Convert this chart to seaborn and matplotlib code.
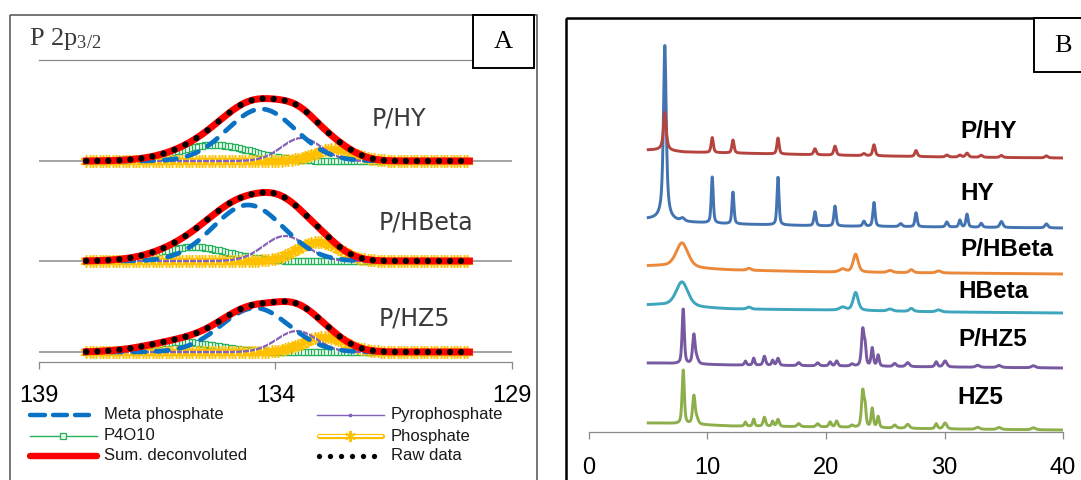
import numpy as np
import pandas as pd
import matplotlib
matplotlib.use("Agg")
import matplotlib.pyplot as plt
import seaborn as sns
from matplotlib.patches import Rectangle

# ======================= DATA =======================
# Panel A : XPS P 2p3/2 deconvolution (binding energy, eV), stacked spectra
xps_samples = ["P/HY", "P/HBeta", "P/HZ5"]
xps_offsets = [201, 101, 10]
be_start, be_end = 138.0, 129.9
be_ticks = [139, 134, 129]
meta_center = [134.30, 134.58, 134.43]
meta_height = [52, 56, 44]
meta_sigma = [0.72, 0.74, 0.72]
p4o10_center = [135.30, 135.75, 136.00]
p4o10_height = [16, 14, 10]
p4o10_sigma = [0.80, 0.75, 0.75]
pyro_center = [133.45, 133.80, 133.55]
pyro_height = [23, 25, 21]
pyro_sigma = [0.42, 0.45, 0.42]
phos_center = [132.75, 133.10, 132.97]
phos_height = [12, 19, 15]
phos_sigma = [0.42, 0.45, 0.45]

# Panel B : XRD patterns (2-theta, degrees), stacked
xrd_names = ["P/HY", "HY", "P/HBeta", "HBeta", "P/HZ5", "HZ5"]
xrd_ticks = [0, 10, 20, 30, 40]
bg_x = [5, 6, 8, 12, 20, 30, 40]
bg_PHY = [282, 282, 280, 279, 277, 275, 274]
bg_HY = [213, 213, 210, 208, 206, 205, 204]
bg_PHBeta = [166, 166, 164, 162, 160, 159, 158]
bg_HBeta = [127, 127, 125, 123, 122, 120, 119]
bg_PHZ5 = [69, 69, 68, 67, 66, 65, 64]
bg_HZ5 = [9, 9, 8, 6, 5, 3, 2]
# peaks: (2theta, height, fwhm)
peaks_PHY = [(6.4, 38, 0.28), (10.4, 15, 0.22), (12.15, 13, 0.22), (15.95, 16, 0.22),
             (19.07, 6, 0.25), (20.76, 9, 0.25), (23.2, 2, 0.3), (24.05, 11, 0.25),
             (27.6, 6, 0.25), (30.2, 2, 0.3), (31.3, 2, 0.3), (31.9, 4, 0.3),
             (33.1, 2, 0.3), (34.8, 2, 0.3), (38.6, 2, 0.3)]
peaks_HY = [(6.4, 174, 0.28), (7.9, 3, 0.4), (10.4, 46, 0.2), (12.15, 32, 0.2),
            (15.95, 48, 0.2), (19.07, 14, 0.22), (20.76, 20, 0.22), (23.2, 5, 0.25),
            (24.05, 24, 0.22), (26.3, 3, 0.3), (27.6, 14, 0.22), (30.2, 5, 0.25),
            (31.3, 7, 0.22), (31.9, 13, 0.22), (33.1, 4, 0.25), (34.8, 6, 0.3),
            (38.6, 4, 0.3)]
peaks_PHBeta = [(7.85, 25, 1.2), (13.5, 2, 0.4), (21.4, 3, 0.6), (22.5, 18, 0.5),
                (25.4, 2, 0.5), (27.2, 3, 0.4), (29.5, 2, 0.5)]
peaks_HBeta = [(7.85, 25, 1.2), (13.5, 2, 0.4), (21.4, 3, 0.6), (22.5, 18, 0.5),
               (25.4, 2, 0.5), (27.2, 3, 0.4), (29.5, 2, 0.5)]
peaks_PHZ5 = [(7.95, 55, 0.22), (8.85, 29, 0.25), (9.1, 5, 0.3), (13.2, 4, 0.2),
              (13.9, 7, 0.2), (14.8, 9, 0.25), (15.5, 5, 0.2), (15.95, 7, 0.25),
              (17.7, 3, 0.3), (19.3, 3, 0.3), (20.35, 4, 0.25), (20.9, 5, 0.25),
              (22.2, 2, 0.3), (23.1, 36, 0.25), (23.3, 18, 0.2), (23.9, 18, 0.22),
              (24.4, 11, 0.22), (25.8, 3, 0.3), (26.9, 4, 0.35), (29.3, 5, 0.25),
              (30.05, 6, 0.35), (32.8, 2, 0.4), (34.6, 2, 0.4), (37.5, 2, 0.4)]
peaks_HZ5 = [(7.95, 54, 0.22), (8.85, 28, 0.25), (9.1, 5, 0.3), (13.2, 4, 0.2),
             (13.9, 7, 0.2), (14.8, 9, 0.25), (15.5, 5, 0.2), (15.95, 7, 0.25),
             (17.7, 3, 0.3), (19.3, 3, 0.3), (20.35, 5, 0.25), (20.9, 6, 0.25),
             (22.2, 2, 0.3), (23.1, 36, 0.25), (23.3, 18, 0.2), (23.9, 19, 0.22),
             (24.4, 11, 0.22), (25.8, 3, 0.3), (26.9, 4, 0.35), (29.3, 5, 0.25),
             (30.05, 6, 0.35), (32.8, 2, 0.4), (34.6, 2, 0.4), (37.5, 2, 0.4)]
xrd_bgs = [bg_PHY, bg_HY, bg_PHBeta, bg_HBeta, bg_PHZ5, bg_HZ5]
xrd_peaks = [peaks_PHY, peaks_HY, peaks_PHBeta, peaks_HBeta, peaks_PHZ5, peaks_HZ5]
xrd_colors = ["#B5443F", "#4373B0", "#EC8839", "#3DA5BC", "#7759A1", "#8DAF4B"]

# ======================= HELPERS =======================
def gauss(x, c, h, s):
    return h * np.exp(-0.5 * ((x - c) / s) ** 2)

def pvoigt(x, c, h, w, eta):
    L = 1.0 / (1.0 + ((x - c) / (w / 2.0)) ** 2)
    G = np.exp(-4 * np.log(2) * ((x - c) / w) ** 2)
    return h * (eta * L + (1 - eta) * G)

W, H = 1081, 480
fig = plt.figure(figsize=(W / 100, H / 100), dpi=100)

def px_axes(x0, y0, x1, y1):
    return fig.add_axes([x0 / W, 1 - y1 / H, (x1 - x0) / W, (y1 - y0) / H])

GRAY = "#8a8a8a"
tickfont = dict(family="Liberation Sans", size=17)

# ---------------- Panel A ----------------
axA = px_axes(39, 60, 512, 362)
be_fine = np.arange(be_start, be_end - 1e-9, -0.02)
be_mark = np.arange(be_start, be_end - 1e-9, -0.07)
be_raw = np.arange(be_start, be_end - 1e-9, -0.233)

for i, name in enumerate(xps_samples):
    off = xps_offsets[i]
    axA.axhline(off, color=GRAY, lw=1.1, zorder=1)
    def comps(x):
        return (gauss(x, meta_center[i], meta_height[i], meta_sigma[i]),
                gauss(x, p4o10_center[i], p4o10_height[i], p4o10_sigma[i]),
                gauss(x, pyro_center[i], pyro_height[i], pyro_sigma[i]),
                gauss(x, phos_center[i], phos_height[i], phos_sigma[i]))
    mf, gf, pf, yf = comps(be_fine)
    mm, gm, pm, ym = comps(be_mark)
    # P4O10
    sns.lineplot(x=be_mark, y=off + gm, ax=axA, color="#25B25A", lw=1.1,
                 marker="s", ms=4.3, mfc="#f2fbf4", mec="#25B25A", mew=0.9,
                 estimator=None, errorbar=None, zorder=2)
    # Phosphate
    sns.lineplot(x=be_mark, y=off + ym, ax=axA, color="#FFC000", lw=3.2,
                 marker=(6, 2, 0), ms=9, mew=1.1, mec="#FFC000",
                 estimator=None, errorbar=None, zorder=3)
    # Pyrophosphate
    sns.lineplot(x=be_mark, y=off + pm, ax=axA, color="#8460B8", lw=1.6,
                 marker="|", ms=3.5, mew=0.8, markevery=2,
                 estimator=None, errorbar=None, zorder=4)
    # Meta phosphate
    sns.lineplot(x=be_fine, y=off + mf, ax=axA, color="#0A72C4", lw=3.4,
                 estimator=None, errorbar=None, zorder=5)
    ln = axA.lines[-1]
    ln.set_dashes([2.6, 2.3])
    ln.set_dash_capstyle("round")
    # Sum deconvoluted
    total = mf + gf + pf + yf
    sns.lineplot(x=be_fine, y=off + total, ax=axA, color="#FF0000", lw=5.0,
                 estimator=None, errorbar=None, zorder=6)
    # Raw data
    rm, rg, rp, ry = comps(be_raw)
    sns.scatterplot(x=be_raw, y=off + rm + rg + rp + ry, ax=axA, color="black",
                    s=20, edgecolor="none", zorder=7)

axA.set_xlim(139, 129)
axA.set_ylim(0, 302)
axA.set_xticks(be_ticks)
axA.set_xticklabels([str(t) for t in be_ticks], fontdict=tickfont)
axA.set_yticks([])
axA.set_xlabel("")
axA.set_ylabel("")
for s in ["left", "right"]:
    axA.spines[s].set_visible(False)
for s in ["top", "bottom"]:
    axA.spines[s].set_color(GRAY)
    axA.spines[s].set_linewidth(0.9)
axA.tick_params(axis="x", direction="out", length=5, width=0.9, color=GRAY,
                pad=11.5, labelcolor="black")
axA.patch.set_alpha(0)

# ---------------- Panel B ----------------
axB = px_axes(589, 20, 1063, 432)
tt = np.arange(5.0, 40.0 + 1e-9, 0.02)
order = [5, 4, 3, 2, 1, 0]
for j in order:
    y = np.interp(tt, bg_x, xrd_bgs[j]).astype(float)
    for (c, h, w) in xrd_peaks[j]:
        eta = 0.8 if h > 100 or (j in (0, 1) and c < 7) else 0.5
        y = y + pvoigt(tt, c, h, w, eta)
    sns.lineplot(x=tt, y=y, ax=axB, color=xrd_colors[j], lw=2.1,
                 estimator=None, errorbar=None, zorder=2 + (5 - j))
axB.set_xlim(0, 40)
axB.set_ylim(0, 412)
axB.set_xticks(xrd_ticks)
axB.set_xticklabels([str(t) for t in xrd_ticks], fontdict=tickfont)
axB.set_yticks([])
axB.set_xlabel("")
axB.set_ylabel("")
for s in ["left", "right", "top"]:
    axB.spines[s].set_visible(False)
axB.spines["bottom"].set_color(GRAY)
axB.spines["bottom"].set_linewidth(0.9)
axB.tick_params(axis="x", direction="out", length=5, width=0.9, color=GRAY,
                pad=13, labelcolor="black")
axB.patch.set_alpha(0)

# ---------------- Overlay (frames, labels, legend) ----------------
ov = fig.add_axes([0, 0, 1, 1])
ov.set_xlim(0, W)
ov.set_ylim(H, 0)
ov.axis("off")
ov.set_zorder(10)
ov.patch.set_alpha(0)

ov.add_patch(Rectangle((9.5, 15), 527, 480, fc="none", ec="#505050", lw=1.1))
ov.add_patch(Rectangle((473, 15), 61, 53, fc="white", ec="black", lw=1.4))
ov.add_patch(Rectangle((566, 18), 600, 500, fc="none", ec="black", lw=1.8))
ov.add_patch(Rectangle((1034, 18), 80, 54, fc="white", ec="black", lw=1.4))
ov.text(503, 42, "A", family="Liberation Serif", size=19, ha="center", va="center")
ov.text(1063, 46, "B", family="Liberation Serif", size=19, ha="center", va="center")

plt.rcParams["mathtext.fontset"] = "custom"
plt.rcParams["mathtext.rm"] = "Liberation Serif"
plt.rcParams["mathtext.it"] = "Liberation Serif:italic"
ov.text(29, 45, r"P 2p$_{\mathit{3/2}}$", family="Liberation Serif", size=19,
        color="#3a3a3a", ha="left", va="baseline")

xps_label_xy = [(372, 119), (379, 222), (379, 318)]
for name, (lx, ly) in zip(xps_samples, xps_label_xy):
    ov.text(lx, ly, name, family="DejaVu Sans", size=17, color="#3a3a3a",
            ha="left", va="center")

xrd_label_xy = [(960, 131), (960, 193), (960, 250), (958, 292), (958, 339), (957, 398)]
for name, (lx, ly) in zip(xrd_names, xrd_label_xy):
    ov.text(lx, ly, name, family="Liberation Sans", size=17.5, weight="bold",
            color="black", ha="left", va="center")

# legend
rows = [415, 436, 456]
lfont = dict(family="Liberation Sans", size=12, color="#1a1a1a", va="center", ha="left")
for (a, b) in [(30, 45), (53, 67), (75, 89)]:
    ov.plot([a, b], [rows[0], rows[0]], color="#0A72C4", lw=3.2, solid_capstyle="round")
ov.text(104, rows[0], "Meta phosphate", **lfont)
ov.plot([30, 97], [rows[1], rows[1]], color="#25B25A", lw=1.0)
ov.plot([63], [rows[1]], marker="s", ms=4.5, mfc="#e6f6ea", mec="#25B25A", mew=0.9)
ov.text(104, rows[1], "P4O10", **lfont)
ov.plot([30, 97], [rows[2], rows[2]], color="#FF0000", lw=4.6, solid_capstyle="round")
ov.text(104, rows[2], "Sum. deconvoluted", **lfont)

ov.plot([317, 384], [rows[0], rows[0]], color="#8460B8", lw=1.0)
ov.plot([350], [rows[0]], marker="s", ms=2, color="#8460B8")
ov.text(391, rows[0], "Pyrophosphate", **lfont)
ov.plot([319, 382], [rows[1], rows[1]], color="#FFC000", lw=3.8, solid_capstyle="round")
ov.plot([319, 382], [rows[1], rows[1]], color="white", lw=1.4, solid_capstyle="round")
ov.plot([350], [rows[1]], marker=(6, 2, 0), ms=8, mew=1.4, color="#FFC000")
ov.text(391, rows[1], "Phosphate", **lfont)
ov.plot([319, 330, 341, 352, 363, 374], [rows[2]] * 6, ls="none", marker="o",
        ms=3.8, color="black", mec="none")
ov.text(391, rows[2], "Raw data", **lfont)

fig.savefig("out.png", dpi=100)
